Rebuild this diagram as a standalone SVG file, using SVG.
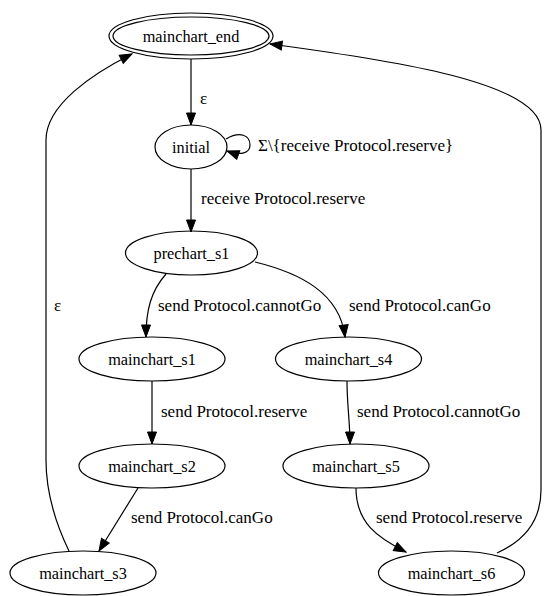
<svg xmlns="http://www.w3.org/2000/svg" width="552" height="596" viewBox="0 0 552 596">
  <style>
    .node ellipse { fill: none; stroke: #000; stroke-width: 1.2; }
    .edges path { fill: none; stroke: #000; stroke-width: 1.2; }
    text { font-family: "Liberation Serif", "Times New Roman", serif; font-size: 16.3px; fill: #000; }
    .edges text { font-size: 17px; }
    .node text { text-anchor: middle; }
  </style>
  <defs>
    <marker id="arrow" markerUnits="userSpaceOnUse" markerWidth="13" markerHeight="10" refX="12" refY="4.5" orient="auto" overflow="visible">
      <path d="M0,0 L12,4.5 L0,9 z" fill="#000" stroke="#000" stroke-width="1"/>
    </marker>
  </defs>
  <rect width="552" height="596" fill="#fff"/>

  <g class="edges">
    <!-- mainchart_end -> initial -->
    <path d="M191,59 L191,125" marker-end="url(#arrow)"/>
    <!-- initial self loop -->
    <path d="M226,139 C240,131 250,135 250,145 C250,153 241,156 227,151" marker-end="url(#arrow)"/>
    <!-- initial -> prechart_s1 -->
    <path d="M191,169 L191,232" marker-end="url(#arrow)"/>
    <!-- prechart_s1 -> mainchart_s1 -->
    <path d="M166,274 C151,291 146,310 146,337" marker-end="url(#arrow)"/>
    <!-- prechart_s1 -> mainchart_s4 -->
    <path d="M255,262 C300,273 340,293 345,337" marker-end="url(#arrow)"/>
    <!-- mainchart_s1 -> mainchart_s2 -->
    <path d="M152,381 L152,444" marker-end="url(#arrow)"/>
    <!-- mainchart_s4 -> mainchart_s5 -->
    <path d="M347,381 C347,405 350,422 350,444" marker-end="url(#arrow)"/>
    <!-- mainchart_s2 -> mainchart_s3 -->
    <path d="M138,488 L99,551" marker-end="url(#arrow)"/>
    <!-- mainchart_s5 -> mainchart_s6 -->
    <path d="M356,488 C356,523 378,538 406,552" marker-end="url(#arrow)"/>
    <!-- mainchart_s3 -> mainchart_end -->
    <path d="M69,551 C54,520 46,492 46,460 L46,140 C46,105 92,74 132,54" marker-end="url(#arrow)"/>
    <!-- mainchart_s6 -> mainchart_end -->
    <path d="M497,553 C526,540 541,520 541,490 L541,130 C541,82 390,60 270,44" marker-end="url(#arrow)"/>

    <text x="200" y="104">ε</text>
    <text x="258" y="151">Σ\{receive Protocol.reserve}</text>
    <text x="201" y="204">receive Protocol.reserve</text>
    <text x="158" y="311">send Protocol.cannotGo</text>
    <text x="349" y="311">send Protocol.canGo</text>
    <text x="54" y="311">ε</text>
    <text x="161" y="417">send Protocol.reserve</text>
    <text x="357" y="417">send Protocol.cannotGo</text>
    <text x="131" y="523">send Protocol.canGo</text>
    <text x="376" y="523">send Protocol.reserve</text>
  </g>

  <g id="mainchart_end" class="node">
    <ellipse cx="191" cy="36" rx="82" ry="23"/>
    <ellipse cx="191" cy="36" rx="78" ry="19"/>
    <text x="191" y="41.5">mainchart_end</text>
  </g>
  <g id="initial" class="node">
    <ellipse cx="191" cy="147" rx="36" ry="22"/>
    <text x="191" y="152.5">initial</text>
  </g>
  <g id="prechart_s1" class="node">
    <ellipse cx="191.5" cy="253" rx="66" ry="22"/>
    <text x="191.5" y="258.5">prechart_s1</text>
  </g>
  <g id="mainchart_s1" class="node">
    <ellipse cx="152" cy="359" rx="73" ry="22"/>
    <text x="152" y="364.5">mainchart_s1</text>
  </g>
  <g id="mainchart_s4" class="node">
    <ellipse cx="348.5" cy="359" rx="73" ry="22"/>
    <text x="348.5" y="364.5">mainchart_s4</text>
  </g>
  <g id="mainchart_s2" class="node">
    <ellipse cx="152" cy="466" rx="73" ry="22"/>
    <text x="152" y="471.5">mainchart_s2</text>
  </g>
  <g id="mainchart_s5" class="node">
    <ellipse cx="356" cy="466" rx="73" ry="22"/>
    <text x="356" y="471.5">mainchart_s5</text>
  </g>
  <g id="mainchart_s3" class="node">
    <ellipse cx="83" cy="573" rx="73" ry="22"/>
    <text x="83" y="578.5">mainchart_s3</text>
  </g>
  <g id="mainchart_s6" class="node">
    <ellipse cx="451.5" cy="573" rx="73" ry="22"/>
    <text x="451.5" y="578.5">mainchart_s6</text>
  </g>
</svg>
